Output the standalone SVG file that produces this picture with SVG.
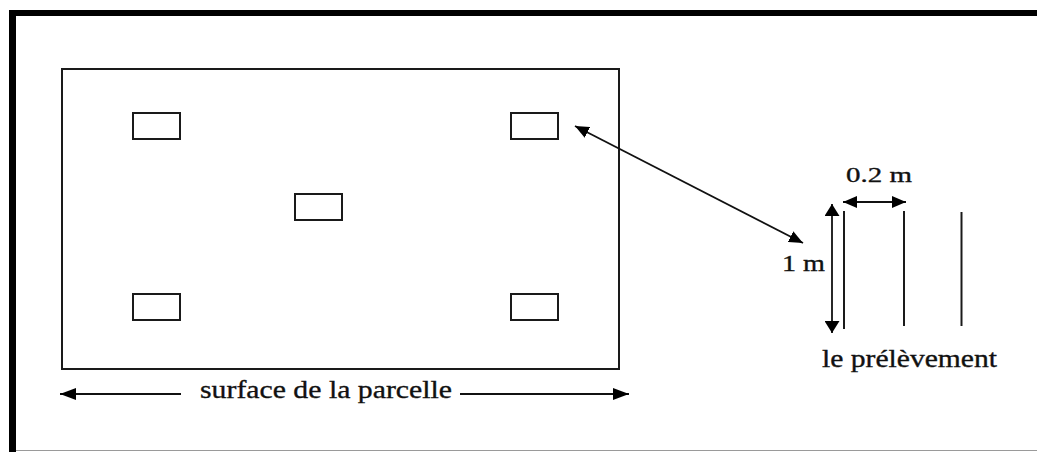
<svg xmlns="http://www.w3.org/2000/svg" width="1037" height="452" viewBox="0 0 1037 452">
  <style>
    .box { fill: none; stroke: #1a1a1a; stroke-width: 2; }
    .strip { stroke: #1a1a1a; stroke-width: 2; fill: none; }
    .dim { stroke: #111; stroke-width: 1.8; fill: none; }
    .lbl { font-family: "Liberation Serif", "Times New Roman", serif; fill: #111; stroke: #111; stroke-width: 0.35; }
  </style>
  <defs>
    <marker id="head" viewBox="0 0 14 12" refX="14" refY="6" markerWidth="14" markerHeight="12" markerUnits="userSpaceOnUse" orient="auto-start-reverse">
      <path d="M0,0 L14,6 L0,12 z" fill="#000"/>
    </marker>
    <marker id="headLong" viewBox="0 0 16 12" refX="16" refY="6" markerWidth="16" markerHeight="12" markerUnits="userSpaceOnUse" orient="auto-start-reverse">
      <path d="M0,0 L16,6 L0,12 z" fill="#000"/>
    </marker>
    <marker id="headWide" viewBox="0 0 12 15" refX="12" refY="7.5" markerWidth="12" markerHeight="15" markerUnits="userSpaceOnUse" orient="auto-start-reverse">
      <path d="M0,0 L12,7.5 L0,15 z" fill="#000"/>
    </marker>
  </defs>

  <!-- page frame -->
  <g id="frame">
    <rect x="9" y="10" width="1028" height="6" fill="#000"/>
    <rect x="9" y="10" width="7" height="442" fill="#000"/>
    <line x1="16" y1="450.5" x2="1037" y2="450.5" stroke="#9a9a9a" stroke-width="1"/>
  </g>

  <!-- plot outline -->
  <g id="parcelle">
    <rect class="box" x="62" y="69" width="557" height="300"/>
  </g>

  <!-- sampling quadrats -->
  <g id="quadrat-tl"><rect class="box" x="133" y="113" width="47" height="26"/></g>
  <g id="quadrat-tr"><rect class="box" x="511" y="113" width="47" height="26"/></g>
  <g id="quadrat-c"><rect class="box" x="295" y="194" width="47" height="26"/></g>
  <g id="quadrat-bl"><rect class="box" x="133" y="294" width="47" height="26"/></g>
  <g id="quadrat-br"><rect class="box" x="511" y="294" width="47" height="26"/></g>

  <!-- sampling strips -->
  <g id="prelevement">
    <line class="strip" x1="844" y1="211" x2="844" y2="329"/>
    <line class="strip" x1="904" y1="211" x2="904" y2="326"/>
    <line class="strip" x1="961.5" y1="212" x2="961.5" y2="326"/>
  </g>

  <!-- arrows and dimension lines -->
  <g id="connectors">
    <line class="dim" x1="575" y1="126" x2="803" y2="243" marker-start="url(#head)" marker-end="url(#head)"/>
    <line class="dim" x1="832" y1="204" x2="832" y2="333" marker-start="url(#headWide)" marker-end="url(#headWide)"/>
    <line class="dim" x1="843" y1="202" x2="906" y2="202" marker-start="url(#head)" marker-end="url(#head)"/>
    <line class="dim" x1="60" y1="394" x2="181" y2="394" marker-start="url(#headLong)"/>
    <line class="dim" x1="460" y1="394" x2="629" y2="394" marker-end="url(#headLong)"/>
  </g>

  <!-- labels -->
  <g id="labels">
    <text class="lbl" x="200" y="397.5" font-size="26" textLength="252" lengthAdjust="spacingAndGlyphs">surface de la parcelle</text>
    <text class="lbl" x="846" y="181.5" font-size="22" textLength="66" lengthAdjust="spacingAndGlyphs">0.2 m</text>
    <text class="lbl" x="782" y="271" font-size="24" textLength="43" lengthAdjust="spacingAndGlyphs">1 m</text>
    <text class="lbl" x="822" y="366.5" font-size="25" textLength="175" lengthAdjust="spacingAndGlyphs">le prélèvement</text>
  </g>
</svg>
